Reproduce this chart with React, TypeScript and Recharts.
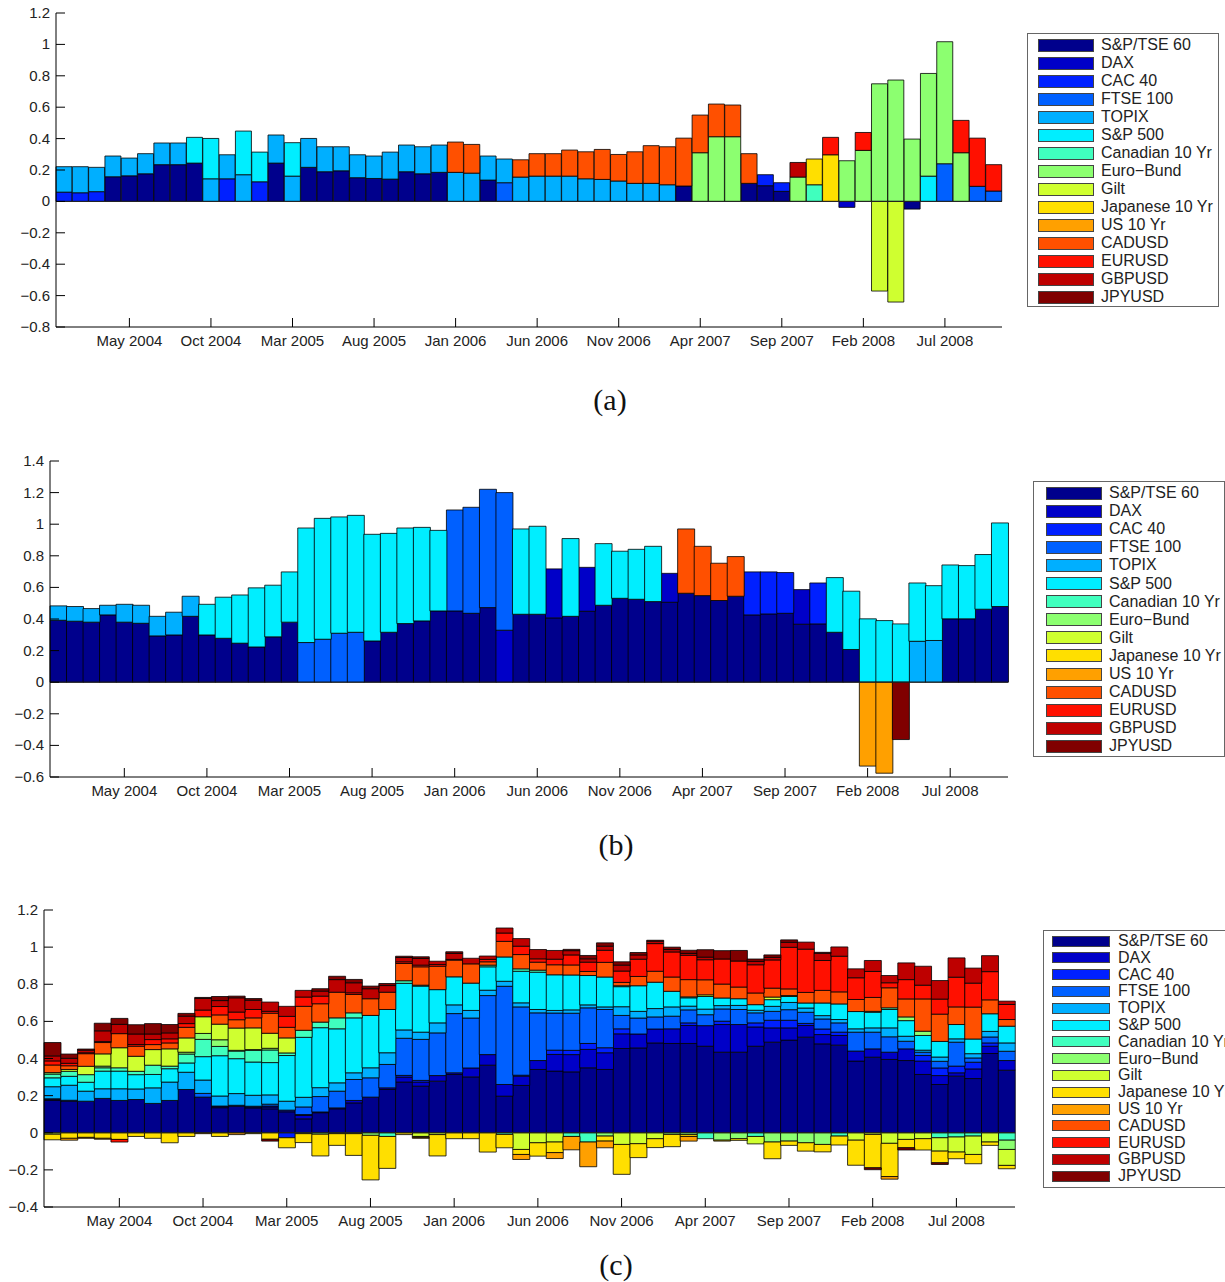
import { Bar, BarChart, ReferenceLine, XAxis, YAxis } from "recharts";

const FONT = '"Liberation Sans", Arial, Helvetica, sans-serif';

const MONTHS = [
  "Jan 2004", "Feb 2004", "Mar 2004", "Apr 2004", "May 2004", "Jun 2004", "Jul 2004", "Aug 2004", "Sep 2004", "Oct 2004", "Nov 2004", "Dec 2004",
  "Jan 2005", "Feb 2005", "Mar 2005", "Apr 2005", "May 2005", "Jun 2005", "Jul 2005", "Aug 2005", "Sep 2005", "Oct 2005", "Nov 2005", "Dec 2005",
  "Jan 2006", "Feb 2006", "Mar 2006", "Apr 2006", "May 2006", "Jun 2006", "Jul 2006", "Aug 2006", "Sep 2006", "Oct 2006", "Nov 2006", "Dec 2006",
  "Jan 2007", "Feb 2007", "Mar 2007", "Apr 2007", "May 2007", "Jun 2007", "Jul 2007", "Aug 2007", "Sep 2007", "Oct 2007", "Nov 2007", "Dec 2007",
  "Jan 2008", "Feb 2008", "Mar 2008", "Apr 2008", "May 2008", "Jun 2008", "Jul 2008", "Aug 2008", "Sep 2008", "Oct 2008",
];
const TICK_MONTHS = ["May 2004", "Oct 2004", "Mar 2005", "Aug 2005", "Jan 2006", "Jun 2006", "Nov 2006", "Apr 2007", "Sep 2007", "Feb 2008", "Jul 2008"];

const KEYS = ["sptse", "dax", "cac", "ftse", "topix", "sp500", "can10", "bund", "gilt", "jgb", "us10", "cad", "eur", "gbp", "jpy"];
const NAMES = ["S&P/TSE 60", "DAX", "CAC 40", "FTSE 100", "TOPIX", "S&P 500", "Canadian 10 Yr", "Euro\u2212Bund", "Gilt", "Japanese 10 Yr", "US 10 Yr", "CADUSD", "EURUSD", "GBPUSD", "JPYUSD"];
const COLORS = ["#00008c", "#0000c8", "#0020ff", "#0060ff", "#00afff", "#00eeff", "#40ffbe", "#8cff70", "#cfff30", "#ffdf00", "#ffa000", "#ff5000", "#ff1000", "#be0000", "#800000"];

// ---- panel (a)
const A_SPTSE = [0, 0, 0, .157, .163, .176, .234, .234, .244, 0, 0, 0, 0, .244, 0, .217, .189, .195, .151, .146, .142, .189, .176, .185, 0, 0, .136, 0, 0, 0, 0, 0, 0, 0, 0, 0, 0, 0, .098, 0, 0, 0, .115, .1, .064, 0, 0, 0, 0, 0, 0, 0, -.049, 0, 0, 0, 0, 0];
const A_DAX = [0, 0, 0, 0, 0, 0, 0, 0, 0, 0, 0, 0, 0, 0, 0, 0, 0, 0, 0, 0, 0, 0, 0, 0, 0, 0, 0, 0, 0, 0, 0, 0, 0, 0, 0, 0, 0, 0, 0, 0, 0, 0, 0, 0, 0, 0, 0, 0, -.038, 0, 0, 0, 0, 0, 0, 0, 0, 0];
const A_CAC = [.059, .055, .062, 0, 0, 0, 0, 0, 0, 0, .144, 0, .125, 0, 0, 0, 0, 0, 0, 0, 0, 0, 0, 0, 0, 0, 0, 0, 0, 0, 0, 0, 0, 0, 0, 0, 0, 0, 0, 0, 0, 0, 0, .07, .055, 0, 0, 0, 0, 0, 0, 0, 0, 0, 0, 0, 0, 0];
const A_FTSE = [0, 0, 0, 0, 0, 0, 0, 0, 0, 0, 0, 0, 0, 0, 0, 0, 0, 0, 0, 0, 0, 0, 0, 0, 0, 0, 0, .119, 0, 0, 0, 0, 0, 0, 0, 0, 0, 0, 0, 0, 0, 0, 0, 0, 0, 0, 0, 0, 0, 0, 0, 0, 0, 0, .24, 0, .096, .066];
const A_TOPIX = [.162, .166, .155, .132, .113, .128, .138, .138, 0, .144, .153, .17, 0, .179, .161, .184, .159, .153, .146, .143, .172, .17, .172, .174, .185, .18, .153, .151, .155, .161, .161, .161, .144, .14, .13, .115, .115, .106, 0, 0, 0, 0, 0, 0, 0, 0, 0, 0, 0, 0, 0, 0, 0, 0, 0, 0, 0, 0];
const A_SP500 = [0, 0, 0, 0, 0, 0, 0, 0, .164, .257, 0, .278, .189, 0, .213, 0, 0, 0, 0, 0, 0, 0, 0, 0, 0, 0, 0, 0, 0, 0, 0, 0, 0, 0, 0, 0, 0, 0, 0, 0, 0, 0, 0, 0, 0, 0, 0, 0, 0, 0, 0, 0, 0, .161, 0, 0, 0, 0];
const A_CAN10 = [0, 0, 0, 0, 0, 0, 0, 0, 0, 0, 0, 0, 0, 0, 0, 0, 0, 0, 0, 0, 0, 0, 0, 0, 0, 0, 0, 0, 0, 0, 0, 0, 0, 0, 0, 0, 0, 0, 0, 0, 0, 0, 0, 0, 0, 0, .106, 0, 0, 0, 0, 0, 0, 0, 0, 0, 0, 0];
const A_BUND = [0, 0, 0, 0, 0, 0, 0, 0, 0, 0, 0, 0, 0, 0, 0, 0, 0, 0, 0, 0, 0, 0, 0, 0, 0, 0, 0, 0, 0, 0, 0, 0, 0, 0, 0, 0, 0, 0, 0, .31, .412, .412, 0, 0, 0, .155, 0, 0, .259, .325, .749, .773, .397, .654, .777, .31, 0, 0];
const A_GILT = [0, 0, 0, 0, 0, 0, 0, 0, 0, 0, 0, 0, 0, 0, 0, 0, 0, 0, 0, 0, 0, 0, 0, 0, 0, 0, 0, 0, 0, 0, 0, 0, 0, 0, 0, 0, 0, 0, 0, 0, 0, 0, 0, 0, 0, 0, 0, 0, 0, 0, -.571, -.641, 0, 0, 0, 0, 0, 0];
const A_JGB = [0, 0, 0, 0, 0, 0, 0, 0, 0, 0, 0, 0, 0, 0, 0, 0, 0, 0, 0, 0, 0, 0, 0, 0, 0, 0, 0, 0, 0, 0, 0, 0, 0, 0, 0, 0, 0, 0, 0, 0, 0, 0, 0, 0, 0, 0, .164, .297, 0, 0, 0, 0, 0, 0, 0, 0, 0, 0];
const A_CAD = [0, 0, 0, 0, 0, 0, 0, 0, 0, 0, 0, 0, 0, 0, 0, 0, 0, 0, 0, 0, 0, 0, 0, 0, .193, .183, 0, 0, .11, .143, .143, .166, .172, .191, .169, .201, .24, .242, .305, .24, .208, .202, .189, 0, 0, 0, 0, 0, 0, 0, 0, 0, 0, 0, 0, 0, 0, 0];
const A_EUR = [0, 0, 0, 0, 0, 0, 0, 0, 0, 0, 0, 0, 0, 0, 0, 0, 0, 0, 0, 0, 0, 0, 0, 0, 0, 0, 0, 0, 0, 0, 0, 0, 0, 0, 0, 0, 0, 0, 0, 0, 0, 0, 0, 0, 0, 0, 0, .111, 0, .114, 0, 0, 0, 0, 0, .206, .307, .168];
const A_GBP = [0, 0, 0, 0, 0, 0, 0, 0, 0, 0, 0, 0, 0, 0, 0, 0, 0, 0, 0, 0, 0, 0, 0, 0, 0, 0, 0, 0, 0, 0, 0, 0, 0, 0, 0, 0, 0, 0, 0, 0, 0, 0, 0, 0, 0, .093, 0, 0, 0, 0, 0, 0, 0, 0, 0, 0, 0, 0];

// ---- panel (b)
const B_SPTSE = [.392, .386, .38, .426, .38, .373, .293, .299, .417, .299, .278, .247, .223, .287, .38, 0, 0, 0, 0, .261, .316, .371, .388, .451, .451, .436, .472, 0, .43, .43, .407, .417, .449, .487, .531, .525, .51, .506, .563, .548, .517, .544, .426, .432, .436, .367, .369, .316, .207, 0, 0, 0, 0, 0, .401, .401, .462, .479];
const B_DAX = [0, 0, 0, 0, 0, 0, 0, 0, 0, 0, 0, 0, 0, 0, 0, 0, 0, 0, 0, 0, 0, 0, 0, 0, 0, 0, 0, .329, 0, 0, .31, 0, .278, 0, 0, 0, 0, .183, 0, 0, 0, 0, 0, 0, 0, .219, 0, 0, 0, 0, 0, 0, 0, 0, 0, 0, 0, 0];
const B_CAC = [0, 0, 0, 0, 0, 0, 0, 0, 0, 0, 0, 0, 0, 0, 0, 0, 0, 0, 0, 0, 0, 0, 0, 0, 0, 0, 0, 0, 0, 0, 0, 0, 0, 0, 0, 0, 0, 0, 0, 0, 0, 0, .272, .266, .258, 0, .259, 0, 0, 0, 0, 0, 0, 0, 0, 0, 0, 0];
const B_FTSE = [0, 0, 0, 0, 0, 0, 0, 0, 0, 0, 0, 0, 0, 0, 0, .251, .272, .31, .316, 0, 0, 0, 0, 0, .639, .671, .749, .871, 0, 0, 0, 0, 0, 0, 0, 0, 0, 0, 0, 0, 0, 0, 0, 0, 0, 0, 0, 0, 0, 0, 0, 0, 0, 0, 0, 0, 0, 0];
const B_TOPIX = [.091, .093, .086, .061, .113, .114, .124, .144, .127, 0, 0, 0, 0, 0, 0, 0, 0, 0, 0, 0, 0, 0, 0, 0, 0, 0, 0, 0, 0, 0, 0, 0, 0, 0, 0, 0, 0, 0, 0, 0, 0, 0, 0, 0, 0, 0, 0, 0, 0, 0, 0, 0, .259, .264, 0, 0, 0, 0];
const B_SP500 = [0, 0, 0, 0, 0, 0, 0, 0, 0, .194, .26, .305, .374, .327, .318, .725, .765, .736, .74, .675, .626, .605, .592, .51, 0, 0, 0, 0, .54, .557, 0, .492, 0, .39, .298, .316, .35, 0, 0, 0, 0, 0, 0, 0, 0, 0, 0, .346, .369, .401, .39, .369, .369, .347, .341, .337, .346, .529];
const B_US10 = [0, 0, 0, 0, 0, 0, 0, 0, 0, 0, 0, 0, 0, 0, 0, 0, 0, 0, 0, 0, 0, 0, 0, 0, 0, 0, 0, 0, 0, 0, 0, 0, 0, 0, 0, 0, 0, 0, 0, 0, 0, 0, 0, 0, 0, 0, 0, 0, 0, -.531, -.576, 0, 0, 0, 0, 0, 0, 0];
const B_CAD = [0, 0, 0, 0, 0, 0, 0, 0, 0, 0, 0, 0, 0, 0, 0, 0, 0, 0, 0, 0, 0, 0, 0, 0, 0, 0, 0, 0, 0, 0, 0, 0, 0, 0, 0, 0, 0, 0, .407, .312, .236, .251, 0, 0, 0, 0, 0, 0, 0, 0, 0, 0, 0, 0, 0, 0, 0, 0];
const B_JPY = [0, 0, 0, 0, 0, 0, 0, 0, 0, 0, 0, 0, 0, 0, 0, 0, 0, 0, 0, 0, 0, 0, 0, 0, 0, 0, 0, 0, 0, 0, 0, 0, 0, 0, 0, 0, 0, 0, 0, 0, 0, 0, 0, 0, 0, 0, 0, 0, 0, 0, 0, -.363, 0, 0, 0, 0, 0, 0];

// ---- panel (c)
const C_SPTSE = [.174, .17, .17, .185, .174, .179, .158, .174, .233, .192, .135, .143, .134, .129, .113, .075, .108, .129, .161, .192, .233, .273, .251, .278, .314, .301, .364, .197, .255, .341, .332, .328, .35, .341, .454, .457, .484, .481, .481, .466, .434, .434, .466, .488, .499, .515, .479, .472, .386, .407, .395, .389, .314, .26, .305, .292, .427, .337];
const C_DAX = [.007, .005, 0, 0, 0, 0, 0, 0, 0, 0, .005, .005, .005, .01, .009, .018, .004, .005, .013, 0, .009, .027, .022, .03, .009, .048, .057, .063, .05, .048, .09, .093, .099, .09, .079, .075, .075, .079, .097, .111, .149, .149, .104, .077, .066, .063, .05, .052, .054, .045, .039, .063, .072, .048, .018, .052, .039, .052];
const C_CAC = [0, 0, 0, 0, 0, 0, 0, 0, 0, 0, .004, 0, .004, .005, -.027, .005, 0, 0, 0, 0, 0, .009, .009, 0, 0, 0, 0, 0, .005, 0, .023, .023, .032, .027, .027, 0, 0, 0, .014, 0, .018, 0, .022, .041, .041, .011, .03, .018, 0, 0, 0, 0, .03, .041, .036, .036, .018, 0];
const C_FTSE = [.002, 0, 0, 0, 0, 0, 0, 0, 0, .02, 0, 0, 0, .01, 0, .041, .083, .09, .113, .104, .126, .2, .221, .23, .319, .269, .318, .529, .368, .257, .2, .2, .192, .206, .072, .086, .065, .068, .07, .059, .066, .081, .054, .048, .057, .06, .054, .05, .102, .09, .083, .041, .018, .036, .129, .023, .032, .05];
const C_TOPIX = [.065, .081, .054, .052, .063, .057, .084, .099, .093, .072, .054, .063, .059, .05, .048, .052, .048, .045, .036, .054, .063, .045, .039, .054, .047, .041, .029, .027, .022, .018, .014, .018, .016, .014, .047, .036, .045, .05, .02, .03, .018, .022, .014, .027, .039, .023, .018, .018, .018, .023, .048, .027, .011, .023, .018, .023, .03, .045];
const C_SP500 = [.048, .048, .048, .095, .095, .077, .072, .072, .05, .126, .217, .188, .179, .174, .246, .323, .323, .291, .296, .282, .233, .251, .248, .179, .151, .147, .126, .131, .17, .201, .192, .188, .158, .161, .108, .138, .142, .084, .045, .068, .041, .036, .03, .036, .032, .027, .068, .084, .093, .084, .099, .084, .079, .084, .077, .079, .095, .09];
const C_CAN10 = [.02, .027, .041, .018, .018, .018, .05, .014, .048, .093, .05, .041, .063, .068, .014, .038, .03, .059, .027, 0, -.02, .014, .005, 0, 0, 0, .009, -.009, .013, .011, 0, -.02, -.05, 0, .005, 0, 0, 0, .005, -.032, 0, 0, -.02, 0, 0, 0, 0, -.018, 0, .005, .009, 0, 0, -.027, -.023, -.018, 0, -.04];
const C_BUND = [.008, 0, 0, .009, 0, 0, 0, 0, .01, .032, .036, .004, .004, .009, 0, -.005, -.008, -.005, -.005, -.014, 0, 0, 0, 0, 0, 0, 0, 0, 0, 0, 0, 0, 0, -.018, 0, 0, 0, -.009, -.01, 0, -.04, -.032, 0, -.05, -.045, -.054, -.063, 0, 0, 0, 0, .02, .023, 0, 0, 0, 0, -.05];
const C_GILT = [-.008, .01, .045, .066, .108, .081, .084, .093, .077, .09, .084, .12, .117, .081, .081, 0, 0, 0, 0, 0, 0, 0, -.02, -.01, 0, 0, 0, 0, -.09, -.054, -.05, 0, 0, 0, -.063, -.059, -.032, 0, 0, .009, 0, 0, -.04, .014, .005, 0, 0, 0, -.04, -.009, -.057, -.036, -.032, -.072, -.081, -.099, -.05, -.086];
const C_JGB = [-.03, -.03, -.025, -.03, -.036, -.02, -.03, -.054, -.02, 0, -.02, 0, -.005, -.035, -.054, -.048, -.117, -.063, -.117, -.24, -.172, -.01, -.005, -.115, -.032, -.032, -.104, -.072, -.027, -.072, -.057, 0, 0, -.027, -.161, -.075, -.048, -.066, -.01, 0, -.005, -.009, 0, -.09, -.023, -.045, -.04, -.048, -.135, -.18, -.179, -.045, -.061, -.063, -.036, -.05, -.018, -.018];
const C_US10 = [0, -.01, -.005, -.005, 0, 0, 0, 0, 0, -.005, 0, -.01, 0, 0, 0, 0, 0, 0, 0, 0, 0, 0, -.005, 0, 0, 0, 0, 0, -.027, 0, -.032, -.072, -.133, -.036, 0, 0, 0, 0, -.025, 0, 0, 0, 0, 0, 0, 0, 0, 0, 0, 0, -.014, 0, 0, 0, 0, 0, 0, 0];
const C_CAD = [.041, .02, .068, .061, .076, .054, .027, .032, .057, 0, .05, .045, .054, .108, .057, .129, .099, .138, .099, .09, .093, .093, .099, .126, .09, .104, .018, .084, .077, .043, .054, .054, .022, .079, .018, .05, .059, .077, .093, .081, .075, .063, .063, .048, .036, .057, .068, .065, .065, .075, .108, .097, .174, .147, .095, .172, .075, .036];
const C_EUR = [.022, .013, .005, .005, -.014, .009, .027, .022, .02, .036, .045, .041, .045, .01, .059, .05, .041, 0, .009, 0, 0, .009, .009, .009, .004, 0, .013, .045, .045, .018, .03, .054, .05, .065, .061, .093, .149, .135, .131, .108, .135, .14, .152, .152, .224, .233, .161, .192, .117, .14, .027, .104, .074, .081, .16, .129, .152, .081];
const C_GBP = [.027, .027, .014, .058, .05, .057, .03, .032, .04, .063, .032, .077, .05, .05, .054, .036, .027, .068, .054, .054, .036, .023, .036, .018, .032, .03, .018, .027, .041, .05, .047, .023, .018, .022, .032, .023, .013, .013, .01, .014, 0, 0, .018, .014, .027, .038, .039, .05, .048, .059, .039, .09, .102, .1, .104, .081, .086, .018];
const C_JPY = [.072, .023, .006, .041, .032, .05, .056, .045, .015, .005, .022, .009, .009, -.01, 0, 0, .013, .018, .018, .014, .011, .007, .009, 0, .009, 0, 0, 0, 0, 0, 0, .007, .018, .018, .018, .013, .005, .013, .017, .04, .045, .057, .013, .013, .013, 0, .005, 0, 0, -.01, 0, -.012, 0, -.009, 0, 0, 0, 0];

const TICKS_A = [-0.8, -0.6, -0.4, -0.2, 0, 0.2, 0.4, 0.6, 0.8, 1, 1.2];
const TICKS_B = [-0.6, -0.4, -0.2, 0, 0.2, 0.4, 0.6, 0.8, 1, 1.2, 1.4];
const TICKS_C = [-0.4, -0.2, 0, 0.2, 0.4, 0.6, 0.8, 1, 1.2];

function buildRows(series: Record<string, number[]>) {
  return MONTHS.map((m, i) => {
    const row: Record<string, string | number> = { m };
    KEYS.forEach((k) => {
      row[k] = series[k] ? series[k][i] : 0;
    });
    return row;
  });
}

const ROWS_A = buildRows({
  sptse: A_SPTSE, dax: A_DAX, cac: A_CAC, ftse: A_FTSE, topix: A_TOPIX, sp500: A_SP500,
  can10: A_CAN10, bund: A_BUND, gilt: A_GILT, jgb: A_JGB, cad: A_CAD, eur: A_EUR, gbp: A_GBP,
});
const ROWS_B = buildRows({
  sptse: B_SPTSE, dax: B_DAX, cac: B_CAC, ftse: B_FTSE, topix: B_TOPIX, sp500: B_SP500,
  us10: B_US10, cad: B_CAD, jpy: B_JPY,
});
const ROWS_C = buildRows({
  sptse: C_SPTSE, dax: C_DAX, cac: C_CAC, ftse: C_FTSE, topix: C_TOPIX, sp500: C_SP500,
  can10: C_CAN10, bund: C_BUND, gilt: C_GILT, jgb: C_JGB, us10: C_US10, cad: C_CAD,
  eur: C_EUR, gbp: C_GBP, jpy: C_JPY,
});

const fmtY = (v: number) => (v === 0 ? "0" : (v < 0 ? "\u2212" : "") + String(Math.abs(v)));

interface PanelProps {
  rows: Record<string, string | number>[];
  top: number;
  width: number;
  height: number;
  plotLeft: number;
  plotRight: number;
  plotTop: number;
  plotBottom: number;
  domain: [number, number];
  ticks: number[];
}

function Panel({ rows, top, width, height, plotLeft, plotRight, plotTop, plotBottom, domain, ticks }: PanelProps) {
  const xTick = (p: any) => {
    if (!TICK_MONTHS.includes(p.payload.value)) return <g />;
    return (
      <g>
        <line x1={p.x} x2={p.x} y1={plotBottom} y2={plotBottom - 9} stroke="#000" strokeWidth={1} />
        <text x={p.x} y={plotBottom + 19} textAnchor="middle" fontSize={15} fill="#222" fontFamily={FONT}>
          {p.payload.value}
        </text>
      </g>
    );
  };
  const yTick = (p: any) => (
    <g>
      <line x1={plotLeft} x2={plotLeft + 9} y1={p.y} y2={p.y} stroke="#000" strokeWidth={1} />
      <text x={plotLeft - 6} y={p.y + 5} textAnchor="end" fontSize={15} fill="#222" fontFamily={FONT}>
        {fmtY(p.payload.value)}
      </text>
    </g>
  );
  return (
    <div style={{ position: "absolute", left: 0, top }}>
      <BarChart
        width={width}
        height={height}
        data={rows}
        stackOffset="sign"
        barCategoryGap={0}
        barGap={0}
        margin={{ top: plotTop, right: width - plotRight, left: 0, bottom: 0 }}
      >
        <XAxis
          dataKey="m"
          interval={0}
          height={height - plotBottom}
          tick={xTick}
          tickLine={false}
          tickSize={0}
          tickMargin={0}
          axisLine={{ stroke: "#000", strokeWidth: 1 }}
        />
        <YAxis
          type="number"
          domain={domain}
          ticks={ticks}
          interval={0}
          allowDataOverflow
          width={plotLeft}
          tick={yTick}
          tickLine={false}
          tickSize={0}
          tickMargin={0}
          axisLine={{ stroke: "#000", strokeWidth: 1 }}
        />
        {KEYS.map((k, i) => (
          <Bar key={k} dataKey={k} stackId="s" fill={COLORS[i]} stroke="#000" strokeWidth={0.8} isAnimationActive={false} />
        ))}
        <ReferenceLine y={0} stroke="#222" strokeWidth={1} />
      </BarChart>
    </div>
  );
}

function LegendBox({ left, top, width, height, first, step, swLeft, swWidth, swHeight, textLeft }: {
  left: number; top: number; width: number; height: number; first: number; step: number;
  swLeft: number; swWidth: number; swHeight: number; textLeft: number;
}) {
  return (
    <div
      style={{
        position: "absolute", left, top, width, height, border: "1px solid #666", background: "#fff",
        boxSizing: "border-box", fontFamily: FONT, fontSize: 16, color: "#222",
      }}
    >
      {NAMES.map((name, i) => (
        <div key={name}>
          <div
            style={{
              position: "absolute", left: swLeft, top: first + step * i - swHeight / 2, width: swWidth,
              height: swHeight, background: COLORS[i], border: "1px solid #444", boxSizing: "border-box",
            }}
          />
          <div style={{ position: "absolute", left: textLeft, top: first + step * i - 9, lineHeight: "18px", whiteSpace: "nowrap" }}>
            {name}
          </div>
        </div>
      ))}
    </div>
  );
}

function Caption({ text, cx, cy }: { text: string; cx: number; cy: number }) {
  return (
    <div
      style={{
        position: "absolute", left: cx - 50, top: cy - 17, width: 100, textAlign: "center",
        fontFamily: '"Liberation Serif", "Times New Roman", serif', fontSize: 30, lineHeight: "34px", color: "#111",
      }}
    >
      {text}
    </div>
  );
}

export default function App() {
  return (
    <div style={{ position: "absolute", left: 0, top: 0, width: 1225, height: 1282, overflow: "hidden", background: "#fff" }}>
      <Panel rows={ROWS_A} top={0} width={1020} height={360} plotLeft={56} plotRight={1002} plotTop={13} plotBottom={327} domain={[-0.8, 1.2]} ticks={TICKS_A} />
      <LegendBox left={1027} top={33} width={192} height={274} first={11} step={18} swLeft={10} swWidth={56} swHeight={13} textLeft={73} />
      <Caption text="(a)" cx={610} cy={400} />

      <Panel rows={ROWS_B} top={450} width={1020} height={360} plotLeft={50} plotRight={1008} plotTop={11} plotBottom={327} domain={[-0.6, 1.4]} ticks={TICKS_B} />
      <LegendBox left={1033} top={481} width={192} height={276} first={11} step={18.1} swLeft={12} swWidth={56} swHeight={13} textLeft={75} />
      <Caption text="(b)" cx={616} cy={845} />

      <Panel rows={ROWS_C} top={900} width={1030} height={330} plotLeft={44} plotRight={1015} plotTop={10} plotBottom={307} domain={[-0.4, 1.2]} ticks={TICKS_C} />
      <LegendBox left={1043} top={930} width={200} height={258} first={10} step={16.8} swLeft={8} swWidth={58} swHeight={11} textLeft={74} />
      <Caption text="(c)" cx={616} cy={1265} />
    </div>
  );
}
